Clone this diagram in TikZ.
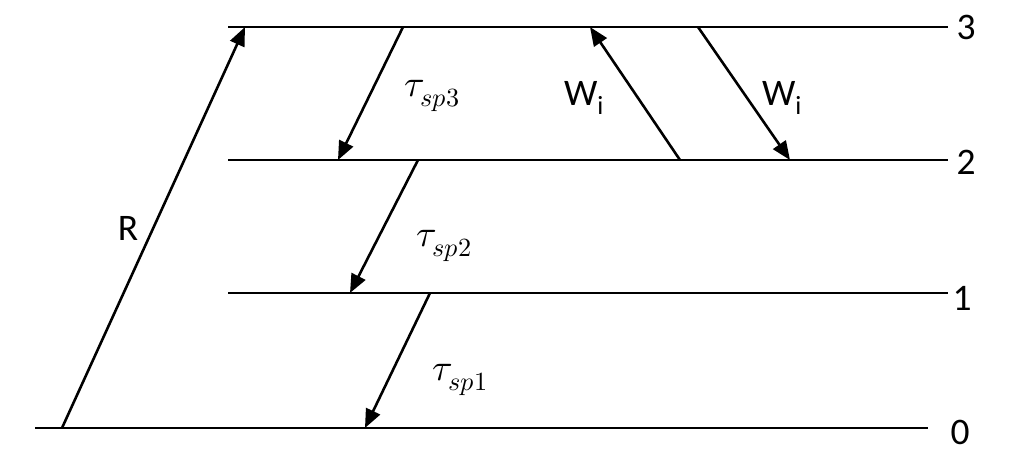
\documentclass[tikz,border=0pt]{standalone}
\usepackage{fontspec}
\setmainfont{Carlito}
\usepackage{unicode-math}
\usetikzlibrary{arrows.meta,positioning}
\tikzset{
  level/.style={line width=2.4pt},
  trans/.style={-{Triangle[length=16pt,width=13pt]}, line width=2.2pt},
  lab/.style={font=\fontsize{32}{38}\selectfont, inner sep=0pt}
}
\begin{document}
\begin{tikzpicture}[x=0.03cm,y=-0.03cm]
  \useasboundingbox (0,0) rectangle (1024,469);
  % energy levels
  \coordinate (l3a) at (228,27);  \coordinate (l3b) at (948,27);
  \coordinate (l2a) at (228,160); \coordinate (l2b) at (948,160);
  \coordinate (l1a) at (228,293); \coordinate (l1b) at (948,293);
  \coordinate (l0a) at (35,428);  \coordinate (l0b) at (928,428);
  \draw[level] (l3a) -- (l3b);
  \draw[level] (l2a) -- (l2b);
  \draw[level] (l1a) -- (l1b);
  \draw[level] (l0a) -- (l0b);
  \node[lab] (n3) at (966,27) {3};
  \node[lab] (n2) at (966,162) {2};
  \node[lab] (n1) at (962,298) {1};
  \node[lab] (n0) at (960,432) {0};
  % pump
  \coordinate (r0) at (62,428); \coordinate (r3) at (245,27);
  \draw[trans] (r0) -- (r3);
  \node[lab] (rl) at (128,228) {R};
  % spontaneous decays
  \coordinate (s3a) at (403,27);  \coordinate (s3b) at (338,160);
  \coordinate (s2a) at (418,160); \coordinate (s2b) at (350,293);
  \coordinate (s1a) at (430,293); \coordinate (s1b) at (365,428);
  \draw[trans] (s3a) -- (s3b);
  \draw[trans] (s2a) -- (s2b);
  \draw[trans] (s1a) -- (s1b);
  \node[lab] (t3) at (432,96)  {$\tau_{sp3}$};
  \node[lab] (t2) at (444,246) {$\tau_{sp2}$};
  \node[lab] (t1) at (460,380) {$\tau_{sp1}$};
  % stimulated transitions
  \coordinate (wua) at (680,160); \coordinate (wub) at (590,27);
  \coordinate (wda) at (698,27);  \coordinate (wdb) at (790,160);
  \draw[trans] (wua) -- (wub);
  \draw[trans] (wda) -- (wdb);
  \node[lab] (wu) at (584,98) {W\textsubscript{i}};
  \node[lab] (wd) at (782,98) {W\textsubscript{i}};
\end{tikzpicture}
\end{document}
